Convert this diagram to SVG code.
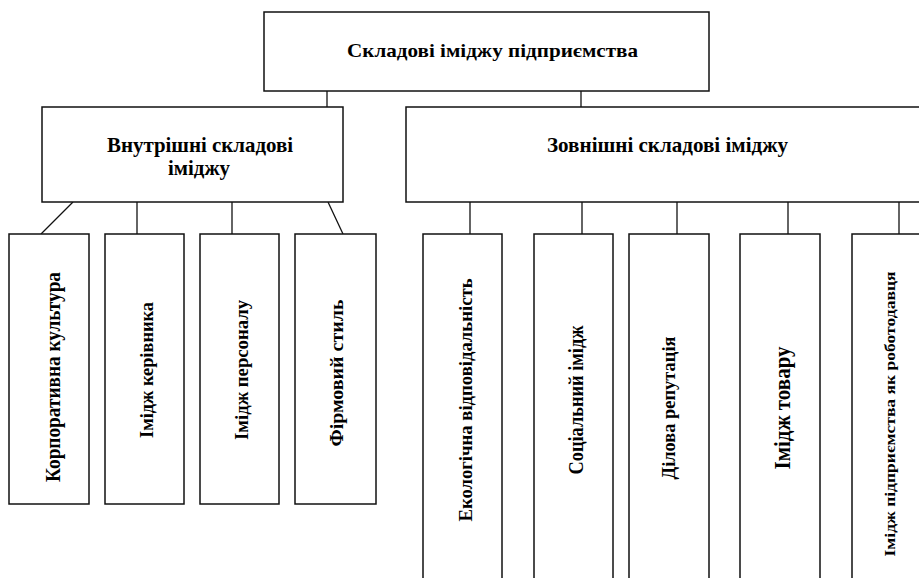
<svg xmlns="http://www.w3.org/2000/svg" width="919" height="578" viewBox="0 0 919 578">
<style>
.box{fill:#fff;stroke:#111;stroke-width:1.5}
.ln{stroke:#111;stroke-width:1.3;fill:none}
.t{font-family:"Liberation Serif","Times New Roman",serif;font-weight:bold;fill:#000;text-anchor:middle}
</style>
<rect width="919" height="578" fill="#fff"/>
<g id="connectors">
<line class="ln" x1="327" y1="91" x2="327" y2="107"/>
<line class="ln" x1="581" y1="91" x2="581" y2="107"/>
<line class="ln" x1="73" y1="202" x2="41" y2="234"/>
<line class="ln" x1="137" y1="202" x2="137" y2="234"/>
<line class="ln" x1="232" y1="202" x2="232" y2="234"/>
<line class="ln" x1="328" y1="202" x2="343" y2="234"/>
<line class="ln" x1="470" y1="202" x2="470" y2="234"/>
<line class="ln" x1="582" y1="202" x2="582" y2="234"/>
<line class="ln" x1="677" y1="202" x2="677" y2="234"/>
<line class="ln" x1="788" y1="202" x2="788" y2="234"/>
<line class="ln" x1="899" y1="202" x2="899" y2="234"/>
</g>
<g id="root">
<rect class="box" x="264" y="12" width="445" height="79"/>
<text class="t" x="492.5" y="57" font-size="19" textLength="291" lengthAdjust="spacingAndGlyphs">Складові іміджу підприємства</text>
</g>
<g id="internal">
<rect class="box" x="42" y="107" width="301" height="95"/>
<text class="t" x="200" y="152" font-size="21" textLength="186" lengthAdjust="spacingAndGlyphs">Внутрішні складові</text>
<text class="t" x="199" y="175" font-size="21" textLength="62" lengthAdjust="spacingAndGlyphs">іміджу</text>
</g>
<g id="external">
<rect class="box" x="406" y="107" width="530" height="95"/>
<text class="t" x="667.5" y="152" font-size="21" textLength="241" lengthAdjust="spacingAndGlyphs">Зовнішні складові іміджу</text>
</g>
<g id="corp-culture">
<rect class="box" x="9" y="234" width="80" height="270"/>
<text class="t" transform="translate(60,377) rotate(-90)" font-size="21" textLength="210" lengthAdjust="spacingAndGlyphs">Корпоративна культура</text>
</g>
<g id="leader-image">
<rect class="box" x="105" y="234" width="79" height="270"/>
<text class="t" transform="translate(153,370) rotate(-90)" font-size="18" textLength="136" lengthAdjust="spacingAndGlyphs">Імідж керівника</text>
</g>
<g id="staff-image">
<rect class="box" x="200" y="234" width="79" height="270"/>
<text class="t" transform="translate(248,370) rotate(-90)" font-size="18" textLength="140" lengthAdjust="spacingAndGlyphs">Імідж персоналу</text>
</g>
<g id="corporate-style">
<rect class="box" x="295" y="234" width="81" height="270"/>
<text class="t" transform="translate(343,373) rotate(-90)" font-size="19" textLength="147" lengthAdjust="spacingAndGlyphs">Фірмовий стиль</text>
</g>
<g id="eco">
<rect class="box" x="423" y="234" width="79" height="360"/>
<text class="t" transform="translate(472,400) rotate(-90)" font-size="19.5" textLength="243" lengthAdjust="spacingAndGlyphs">Екологічна відповідальність</text>
</g>
<g id="social">
<rect class="box" x="534" y="234" width="79" height="360"/>
<text class="t" transform="translate(583,400) rotate(-90)" font-size="21" textLength="149" lengthAdjust="spacingAndGlyphs">Соціальний імідж</text>
</g>
<g id="reputation">
<rect class="box" x="629" y="234" width="80" height="360"/>
<text class="t" transform="translate(675,408) rotate(-90)" font-size="18" textLength="143" lengthAdjust="spacingAndGlyphs">Ділова репутація</text>
</g>
<g id="product">
<rect class="box" x="740" y="234" width="80" height="360"/>
<text class="t" transform="translate(790,408) rotate(-90)" font-size="24" textLength="123" lengthAdjust="spacingAndGlyphs">Імідж товару</text>
</g>
<g id="employer">
<rect class="box" x="852" y="234" width="90" height="360"/>
<text class="t" transform="translate(895,414) rotate(-90)" font-size="15" textLength="285" lengthAdjust="spacingAndGlyphs">Імідж підприємства як роботодавця</text>
</g>
</svg>
